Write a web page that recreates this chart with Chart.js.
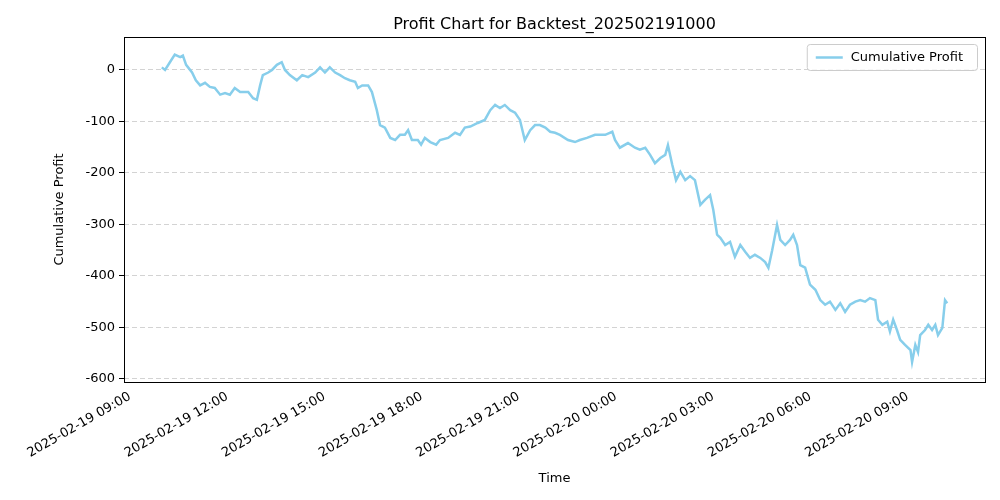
<!DOCTYPE html>
<html><head><meta charset="utf-8">
<script src="https://cdn.jsdelivr.net/npm/chart.js@4"></script>
<style>body{margin:0;background:#fff}#w{width:1000px;height:500px}</style>
</head><body><div id="w"><canvas id="c"></canvas></div>
<script>
const chartTitle = "Profit Chart for Backtest_202502191000";
const seriesName = "Cumulative Profit";
// minutes since 2025-02-19 09:00
const minutes = [59,65,74,83,93,98,104,115,122,130,139,148,157,167,176,185,194,204,219,228,235,241,246,256,263,272,281,287,296,309,319,330,343,352,361,370,380,389,398,407,417,422,430,441,448,457,463,472,482,491,500,509,515,522,533,539,546,556,567,574,589,602,611,620,630,644,657,667,676,685,694,704,713,722,731,741,750,759,769,778,787,796,811,824,833,846,861,880,893,898,907,922,935,944,954,963,972,982,991,996,1004,1011,1019,1028,1037,1046,1056,1065,1074,1080,1087,1093,1102,1111,1120,1130,1139,1148,1157,1167,1176,1182,1189,1198,1204,1213,1222,1228,1235,1241,1250,1259,1269,1278,1287,1296,1306,1315,1324,1333,1343,1352,1361,1370,1380,1385,1393,1402,1407,1413,1420,1426,1435,1445,1448,1454,1459,1463,1472,1478,1485,1491,1496,1504,1509,1513];
const profit = [5,0,15,30,25,28,10,-5,-20,-30,-25,-33,-35,-48,-45,-48,-35,-43,-43,-55,-58,-30,-10,-5,0,10,15,0,-10,-20,-10,-14,-5,5,-5,5,-5,-10,-16,-20,-23,-35,-30,-30,-43,-78,-107,-112,-132,-136,-126,-126,-117,-136,-136,-145,-132,-140,-145,-136,-132,-122,-126,-112,-110,-103,-97,-78,-68,-74,-68,-78,-83,-97,-136,-117,-107,-107,-112,-120,-122,-126,-136,-140,-136,-132,-126,-126,-120,-136,-151,-142,-151,-155,-151,-165,-181,-171,-165,-146,-184,-214,-198,-214,-206,-214,-262,-252,-243,-272,-320,-326,-340,-334,-363,-340,-353,-365,-359,-365,-373,-384,-350,-301,-330,-340,-330,-320,-340,-379,-384,-417,-427,-447,-456,-450,-466,-453,-470,-456,-450,-447,-450,-443,-447,-485,-495,-489,-508,-485,-505,-524,-534,-544,-567,-534,-548,-515,-505,-495,-505,-495,-515,-501,-447,-453];
const xTickLabels = ["2025-02-19 09:00","2025-02-19 12:00","2025-02-19 15:00","2025-02-19 18:00","2025-02-19 21:00","2025-02-20 00:00","2025-02-20 03:00","2025-02-20 06:00","2025-02-20 09:00"];
const yTicks = [0,-100,-200,-300,-400,-500,-600];

const pts = minutes.map((m,i)=>({x:m,y:profit[i]}));
const deco = {
  id:'deco',
  afterDraw(ch){
    const c=ch.ctx,a=ch.chartArea;
    c.save();
    c.strokeStyle='#000';c.lineWidth=1;
    c.strokeRect(a.left+0.5,a.top+0.5,a.right-a.left,a.bottom-a.top);
    c.fillStyle='#000';c.font='16px "DejaVu Sans"';c.textAlign='center';c.textBaseline='alphabetic';
    c.fillText(chartTitle,(a.left+a.right)/2,29);
    c.font='13px "DejaVu Sans"';
    const tw=c.measureText(seriesName).width;
    const w=tw+58,h=26,x=a.right-8-w,y=a.top+7;
    c.fillStyle='rgba(255,255,255,0.8)';c.strokeStyle='#ccc';
    c.beginPath();c.roundRect(x+0.5,y+0.5,w,h,3);c.fill();c.stroke();
    c.strokeStyle='#87CEEB';c.lineWidth=2.5;
    c.beginPath();c.moveTo(x+9,y+13.5);c.lineTo(x+36,y+13.5);c.stroke();
    c.fillStyle='#000';c.textAlign='left';c.textBaseline='middle';
    c.fillText(seriesName,x+44,y+14);
    c.restore();
  }
};
new Chart(document.getElementById('c'),{
  type:'line',
  data:{datasets:[{label:seriesName,data:pts,borderColor:'#87CEEB',borderWidth:2.5,pointRadius:0,tension:0,fill:false}]},
  options:{
    responsive:true,maintainAspectRatio:false,animation:false,
    layout:{padding:{top:37,right:15,left:52,bottom:14}},
    plugins:{legend:{display:false},tooltip:{enabled:false}},
    scales:{
      x:{type:'linear',min:-11,max:1583,
        afterBuildTicks(s){s.ticks=xTickLabels.map((_,i)=>({value:i*180}));},
        afterFit(s){s.height=104;},
        ticks:{minRotation:30,maxRotation:30,color:'#000',font:{family:'DejaVu Sans',size:13},padding:2,
          callback:(v)=>xTickLabels[Math.round(v/180)]},
        grid:{display:false,drawTicks:true,tickLength:5,tickColor:'#000'},border:{display:false},
        title:{display:true,text:'Time',color:'#000',font:{family:'DejaVu Sans',size:13},padding:{top:0,bottom:0}}},
      y:{min:-606,max:64,
        afterBuildTicks(s){s.ticks=yTicks.map(v=>({value:v}));},
        afterFit(s){s.width=72;},
        ticks:{color:'#000',font:{family:'DejaVu Sans',size:13},padding:4},
        grid:{color:'#d3d3d3',borderDash:[5,3],tickLength:5,tickColor:'#000'},
        border:{display:false,dash:[5,3]},
        title:{display:true,text:'Cumulative Profit',color:'#000',font:{family:'DejaVu Sans',size:13},padding:0}}
    }
  },
  plugins:[deco]
});
</script></body></html>
